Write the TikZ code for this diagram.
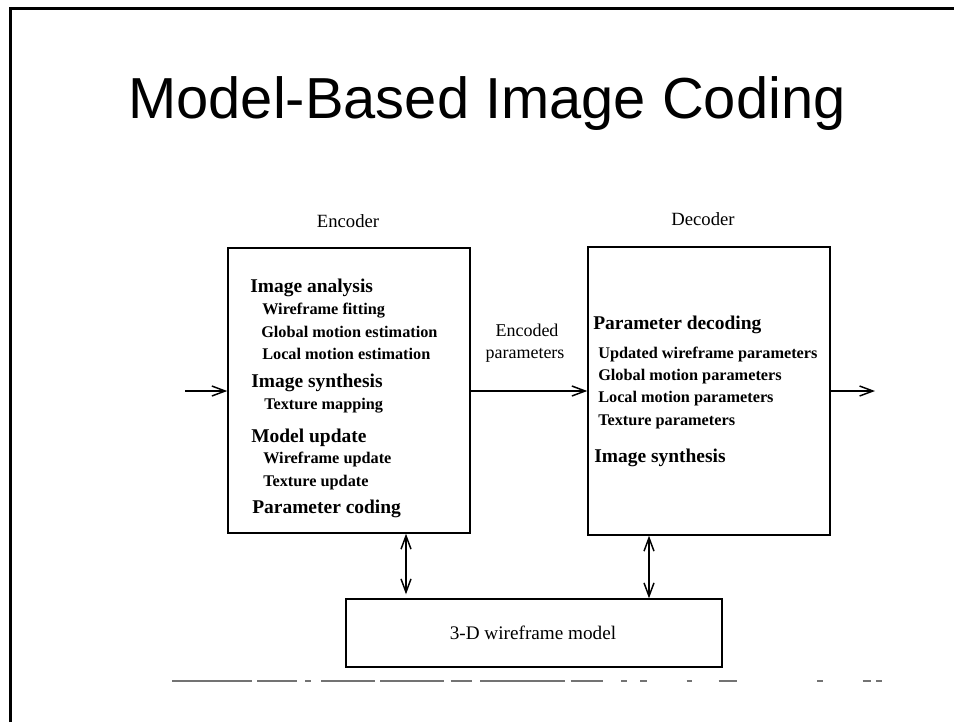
\documentclass[tikz,border=0pt]{standalone}
\usepackage{fontspec}
\usetikzlibrary{arrows.meta}
\newfontfamily\titlefont{Liberation Sans}
\newfontfamily\tnr{Liberation Serif}
\begin{document}
\begin{tikzpicture}[x=0.75pt,y=-0.75pt,
  box/.style={draw,line width=1.1pt,rectangle,inner sep=0pt},
  arr/.style={line width=1.1pt,-{Straight Barb[length=10pt,width=7.5pt,line width=1.1pt]}},
  darr/.style={line width=1.1pt,{Straight Barb[length=10pt,width=7.5pt,line width=1.1pt]}-{Straight Barb[length=10pt,width=7.5pt,line width=1.1pt]}},
  head/.style={anchor=base west,inner sep=0pt,font=\tnr\bfseries\fontsize{14.6pt}{16pt}\selectfont},
  sub/.style={anchor=base west,inner sep=0pt,font=\tnr\bfseries\fontsize{12.2pt}{14pt}\selectfont},
  lab/.style={anchor=base,inner sep=0pt,font=\tnr\fontsize{14pt}{16pt}\selectfont},
  frame/.style={line width=1.9pt}]
\useasboundingbox (0,0) rectangle (954,722);
% slide frame
\draw[frame] (10.5,722) -- (10.5,8.3) -- (954,8.3);
% title
\node[anchor=base,inner sep=0pt,font=\titlefont\fontsize{43.4pt}{48pt}\selectfont] (title) at (487,118) {Model-Based Image Coding};
% boxes
\node[box,minimum width=181.5pt,minimum height=213.75pt] (enc) at (349,390.5) {};
\node[box,minimum width=181.5pt,minimum height=216pt] (dec) at (709,391) {};
\node[box,minimum width=282pt,minimum height=51pt] (wire) at (534,633) {};
% labels above
\node[lab] (enclab) at (348,227) {Encoder};
\node[lab] (declab) at (703,225) {Decoder};
\node[lab,font=\tnr\fontsize{13.5pt}{16pt}\selectfont] (encd1) at (527,336) {Encoded};
\node[lab,font=\tnr\fontsize{13.5pt}{16pt}\selectfont] (encd2) at (525,358) {parameters};
\node[lab,font=\tnr\fontsize{14.4pt}{16pt}\selectfont] (wiretxt) at (533,639) {3-D wireframe model};
% encoder text
\node[head] (e1) at (250,292) {Image analysis};
\node[sub] (e2) at (262,314) {Wireframe fitting};
\node[sub] (e3) at (261,337) {Global motion estimation};
\node[sub] (e4) at (262,359) {Local motion estimation};
\node[head] (e5) at (251,387) {Image synthesis};
\node[sub] (e6) at (264,409) {Texture mapping};
\node[head] (e7) at (251,442) {Model update};
\node[sub] (e8) at (263,463) {Wireframe update};
\node[sub] (e9) at (263,486) {Texture update};
\node[head] (e10) at (252,513) {Parameter coding};
% decoder text
\node[head] (d1) at (593,329) {Parameter decoding};
\node[sub] (d2) at (598,358) {Updated wireframe parameters};
\node[sub] (d3) at (598,380) {Global motion parameters};
\node[sub] (d4) at (598,402) {Local motion parameters};
\node[sub] (d5) at (598,425) {Texture parameters};
\node[head] (d6) at (594,462) {Image synthesis};
% connectors
\coordinate (in) at (185,391);
\coordinate (out) at (875,391);
\coordinate (lx) at (406,0);
\coordinate (rx) at (649,0);
\draw[arr] (in) -- (enc.west |- in);
\draw[arr] (enc.east |- in) -- (dec.west |- in);
\draw[arr] (dec.east |- out) -- (out);
\draw[darr,shorten >=3pt] (enc.south -| lx) -- (wire.north -| lx);
\draw[darr] (dec.south -| rx) -- (wire.north -| rx);
% broken scan line
\draw[black!55,line width=1pt,dash pattern=on 60pt off 4pt on 30pt off 6pt on 4pt off 8pt on 40pt off 4pt on 48pt off 5pt on 16pt off 6pt on 64pt off 4pt on 24pt off 14pt on 4pt off 10pt on 5pt off 30pt on 4pt off 20pt on 14pt] (172,681) -- (882,681);
\end{tikzpicture}
\end{document}
